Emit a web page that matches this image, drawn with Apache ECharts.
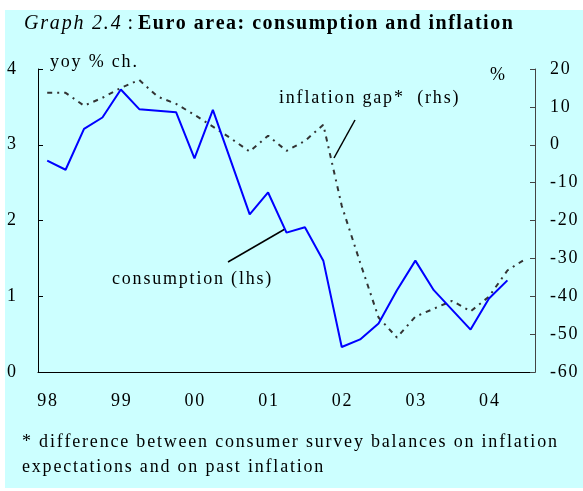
<!DOCTYPE html>
<html>
<head>
<meta charset="utf-8">
<script src="https://cdn.jsdelivr.net/npm/echarts@6/dist/echarts.min.js"></script>
<style>
    html, body { margin: 0; padding: 0; background: #fff; }
    #chart { width: 583px; height: 491px; }
</style>
</head>
<body>
<div id="chart"></div>
<script>
// 季度 98Q1 - 04Q3
const quarters = [
    '98Q1', '98Q2', '98Q3', '98Q4', '99Q1', '99Q2', '99Q3', '99Q4',
    '00Q1', '00Q2', '00Q3', '00Q4', '01Q1', '01Q2', '01Q3', '01Q4',
    '02Q1', '02Q2', '02Q3', '02Q4', '03Q1', '03Q2', '03Q3', '03Q4',
    '04Q1', '04Q2', '04Q3'
];
// 消费 yoy % ch. (lhs)
const consumption = [
    2.79, 2.67, 3.21, 3.36, 3.73, 3.47, 3.45, 3.43,
    2.82, 3.46, 2.77, 2.08, 2.37, 1.84, 1.91, 1.47,
    0.33, 0.43, 0.64, 1.08, 1.47, 1.08, 0.82, 0.56,
    0.97, 1.21
];
// 通胀差 % (rhs)
const inflationGap = [
    13.7, 13.7, 10.3, 12.4, 15.0, 17.1, 12.7, 10.8,
    7.9, 4.8, 1.6, -1.8, 2.4, -1.6, 1.0, 5.3,
    -16.1, -31.1, -45.6, -50.9, -45.4, -43.3, -41.2, -44.0,
    -40.1, -33.2, -30.1
];

const serif = '"Liberation Serif", "DejaVu Serif", serif';
const gap = 1.8; // 字间距

// 把文字拆成单字 rich 片段，用 padding 模拟字间距
function spaced(text, style) {
    return text.split('').map(ch => '{' + style + '|' + ch + '}').join('');
}

function richStyle(size, extra) {
    return Object.assign({
        fontFamily: serif,
        fontSize: size,
        color: '#000',
        fontWeight: 'normal',
        padding: [0, gap, 0, 0]
    }, extra || {});
}

const chart = echarts.init(document.getElementById('chart'));

chart.setOption({
    backgroundColor: '#fff',
    animation: false,
    grid: {
        left: 38,
        right: 48,
        top: 69,
        bottom: 119
    },
    xAxis: {
        type: 'category',
        data: quarters,
        boundaryGap: true,
        axisLine: { lineStyle: { color: '#000', width: 1 } },
        axisTick: { inside: true, length: 5, interval: 0, lineStyle: { color: '#000' } },
        axisLabel: {
            interval: 3,
            margin: 20,
            formatter: v => spaced(v.slice(0, 2), 's'),
            rich: { s: richStyle(18, { padding: [0, gap / 2, 0, gap / 2] }) }
        },
        splitLine: { show: false }
    },
    yAxis: [
        {
            type: 'value',
            min: 0,
            max: 4,
            interval: 1,
            axisLine: { show: true, lineStyle: { color: '#000' } },
            axisTick: { show: true, inside: true, length: 5, lineStyle: { color: '#000' } },
            axisLabel: {
                margin: 22,
                formatter: v => spaced(String(v), 's'),
                rich: { s: richStyle(18, { padding: [0, 0, 0, gap] }) }
            },
            splitLine: { show: false }
        },
        {
            type: 'value',
            position: 'right',
            min: -60,
            max: 20,
            interval: 10,
            axisLine: { show: true, lineStyle: { color: '#444' } },
            axisTick: { show: true, inside: true, length: 5, lineStyle: { color: '#444' } },
            axisLabel: {
                margin: 15,
                formatter: v => spaced(String(v), 's'),
                rich: { s: richStyle(18) }
            },
            splitLine: { show: false }
        }
    ],
    series: [
        {
            name: 'consumption (lhs)',
            type: 'line',
            yAxisIndex: 0,
            data: consumption,
            symbol: 'none',
            lineStyle: { color: '#0000ff', width: 2 },
            z: 3
        },
        {
            name: 'inflation gap* (rhs)',
            type: 'line',
            yAxisIndex: 1,
            data: inflationGap,
            symbol: 'none',
            lineStyle: { color: '#333', width: 2, type: [5, 5, 2, 5] },
            z: 2
        }
    ],
    graphic: [
        {
            type: 'rect',
            z: -10,
            silent: true,
            shape: { x: 5, y: 10, width: 578, height: 478 },
            style: { fill: '#ccffff' }
        },
        // 标题
        {
            type: 'text',
            left: 24,
            top: 14,
            style: {
                text: spaced('Graph 2.4', 'i') + spaced(' : ', 'n') + spaced('Euro area: consumption and inflation', 'b'),
                rich: {
                    i: richStyle(20, { fontStyle: 'italic' }),
                    n: richStyle(20, { padding: 0 }),
                    b: richStyle(20, { fontWeight: 'bold', padding: [0, 1.5, 0, 0] })
                }
            }
        },
        {
            type: 'text',
            left: 50,
            top: 53,
            style: { text: spaced('yoy % ch.', 's'), rich: { s: richStyle(18) } }
        },
        {
            type: 'text',
            left: 490,
            top: 66,
            style: { text: '%', font: '18px ' + serif, fill: '#000' }
        },
        {
            type: 'text',
            left: 279,
            top: 89,
            style: { text: spaced('inflation gap*  (rhs)', 's'), rich: { s: richStyle(18) } }
        },
        {
            type: 'text',
            left: 112,
            top: 270,
            style: { text: spaced('consumption (lhs)', 's'), rich: { s: richStyle(18) } }
        },
        {
            type: 'line',
            shape: { x1: 334, y1: 158, x2: 355, y2: 120 },
            style: { stroke: '#000', lineWidth: 1.5 }
        },
        {
            type: 'line',
            shape: { x1: 228, y1: 262, x2: 285, y2: 229 },
            style: { stroke: '#000', lineWidth: 1.5 }
        },
        // 脚注
        {
            type: 'text',
            left: 22,
            top: 433,
            style: {
                text: spaced('* difference between consumer survey balances on inflation', 's') +
                    '\n' + spaced('expectations and on past inflation', 's'),
                rich: { s: richStyle(18, { lineHeight: 25 }) }
            }
        }
    ]
});
</script>
</body>
</html>
